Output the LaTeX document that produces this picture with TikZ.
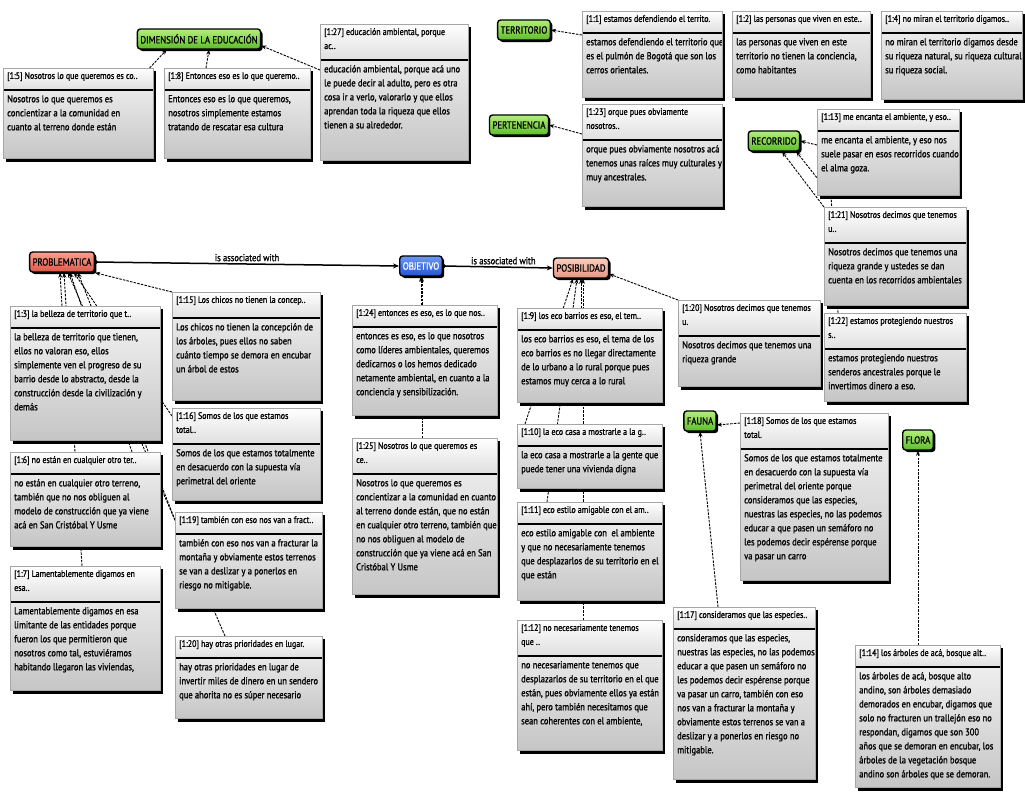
\documentclass[tikz,border=0pt]{standalone}
\usepackage{fontspec}
\setmainfont{PT Sans}[FakeStretch=0.85,FakeBold=1.2]
\usetikzlibrary{arrows.meta,calc,shadows}
\pgfdeclarelayer{bg}
\pgfsetlayers{bg,main}
\definecolor{cgreenA}{RGB}{180,238,125}
\definecolor{cgreenB}{RGB}{92,188,42}
\definecolor{credA}{RGB}{250,160,145}
\definecolor{credB}{RGB}{222,88,72}
\definecolor{cpinkA}{RGB}{250,205,190}
\definecolor{cpinkB}{RGB}{228,150,130}
\definecolor{cblueA}{RGB}{110,150,245}
\definecolor{cblueB}{RGB}{35,85,210}
\tikzset{
  qframe/.style={draw=gray!70, line width=0.6pt, top color=gray!8, bottom color=gray!45, inner sep=0pt},
  qtext/.style={anchor=north west, inner sep=0pt, align=left, font=\fontsize{10}{14}\selectfont},
  qtitle/.style={anchor=north west, inner sep=0pt, align=left, font=\fontsize{9.4}{14}\selectfont},
  concept/.style={draw=black, line width=1.4pt, rounded corners=3pt, inner xsep=3pt, inner ysep=0pt,
    minimum height=20pt, font=\fontsize{10.3}{10}\selectfont,
    drop shadow={shadow xshift=2pt, shadow yshift=-2pt, fill=black, opacity=1}},
  gconcept/.style={concept, top color=cgreenA, bottom color=cgreenB},
  lnk/.style={draw=black, line width=0.9pt, dash pattern=on 2.5pt off 1.2pt, -{Stealth[length=5pt,width=4pt]}},
  assoc/.style={draw=black, line width=1.5pt, {Circle[length=3pt]}-{Stealth[length=6pt,width=5pt]}},
  lbl/.style={font=\fontsize{10}{10}\selectfont, inner sep=2pt},
}
% name, x, y, w, h, title height, title, body
\newcommand\qbox[8]{%
  \fill[black] ({#2+3},{#3+3}) rectangle ({#2+#4+3},{#3+#5+3.5});
  \node[qframe, minimum width=#4pt, minimum height=#5pt, anchor=north west] (#1) at (#2,#3) {};
  \fill[top color=white, bottom color=gray!25] (#2,#3) rectangle ({#2+#4},{#3+#6});
  \draw[line width=1.6pt] (#2,{#3+#6}) -- ({#2+#4},{#3+#6});
  \node[qtitle] at ({#2+4},{#3+4}) {#7};
  \node[qtext] at ({#2+4},{#3+#6+5}) {#8};
  \draw[gray!70, line width=0.6pt] (#1.north west) rectangle (#1.south east);
}
\begin{document}
\begin{tikzpicture}[x=1pt,y=-1pt]
\useasboundingbox (0,0) rectangle (1025,793);

% concept nodes
\node[gconcept] (dim) at (199,39) {DIMENSIÓN DE LA EDUCACIÓN};
\node[gconcept] (terr) at (524,30) {TERRITORIO};
\node[gconcept] (pert) at (519,125) {PERTENENCIA};
\node[gconcept] (rec) at (774,141) {RECORRIDO};
\node[concept, top color=credA, bottom color=credB] (prob) at (62,262) {PROBLEMATICA};
\node[concept, top color=cblueA, bottom color=cblueB, text=white] (obj) at (421,266) {OBJETIVO};
\node[concept, top color=cpinkA, bottom color=cpinkB] (posi) at (581,268) {POSIBILIDAD};
\node[gconcept] (fauna) at (700,421) {FAUNA};
\node[gconcept] (flora) at (918,440) {FLORA};

% quotation boxes
\qbox{b5}{3}{68}{150}{90}{22}{[1:5] Nosotros lo que queremos es co..}{Nosotros lo que queremos es\\concientizar a la comunidad en\\cuanto al terreno donde están}
\qbox{b8}{164}{68}{146}{90}{22}{[1:8] Entonces eso es lo que queremo..}{Entonces eso es lo que queremos,\\nosotros simplemente estamos\\tratando de rescatar esa cultura}
\qbox{b27}{320}{24}{148}{136}{36}{[1:27] educación ambiental, porque\\ac..}{educación ambiental, porque acá uno\\le puede decir al adulto, pero es otra\\cosa ir a verlo, valorarlo y que ellos\\aprendan toda la riqueza que ellos\\tienen a su alrededor.}
\qbox{b1}{582}{11}{140}{86}{22}{[1:1] estamos defendiendo el territo.}{estamos defendiendo el territorio que\\es el pulmón de Bogotá que son los\\cerros orientales.}
\qbox{b2}{732}{11}{138}{86}{22}{[1:2] las personas que viven en este..}{las personas que viven en este\\territorio no tienen la conciencia,\\como habitantes}
\qbox{b4}{881}{11}{141}{88}{22}{[1:4] no miran el territorio digamos..}{no miran el territorio digamos desde\\su riqueza natural, su riqueza cultural,\\su riqueza social.}
\qbox{b23}{582}{104}{140}{102}{36}{[1:23] orque pues obviamente\\nosotros..}{orque pues obviamente nosotros acá\\tenemos unas raíces muy culturales y\\muy ancestrales.}
\qbox{b13}{817}{109}{142}{86}{22}{[1:13] me encanta el ambiente, y eso..}{me encanta el ambiente, y eso nos\\suele pasar en esos recorridos cuando\\el alma goza.}
\qbox{b21}{824}{207}{142}{98}{36}{[1:21] Nosotros decimos que tenemos\\u..}{Nosotros decimos que tenemos una\\riqueza grande y ustedes se dan\\cuenta en los recorridos ambientales}
\qbox{b22}{824}{313}{142}{88}{36}{[1:22] estamos protegiendo nuestros\\s..}{estamos protegiendo nuestros\\senderos ancestrales porque le\\invertimos dinero a eso.}
\qbox{b20r}{678}{300}{142}{86}{36}{[1:20] Nosotros decimos que tenemos\\u.}{Nosotros decimos que tenemos una\\riqueza grande}
\qbox{b3}{10}{306}{150}{134}{22}{[1:3] la belleza de territorio que t..}{la belleza de territorio que tienen,\\ellos no valoran eso, ellos\\simplemente ven el progreso de su\\barrio desde lo abstracto, desde la\\construcción desde la civilización y\\demás}
\qbox{b6}{10}{452}{150}{94}{22}{[1:6] no están en cualquier otro ter..}{no están en cualquier otro terreno,\\también que no nos obliguen al\\modelo de construcción que ya viene\\acá en San Cristóbal Y Usme}
\qbox{b7}{10}{566}{150}{124}{36}{[1:7] Lamentablemente digamos en\\esa..}{Lamentablemente digamos en esa\\limitante de las entidades porque\\fueron los que permitieron que\\nosotros como tal, estuviéramos\\habitando llegaron las viviendas,}
\qbox{b15}{172}{292}{148}{108}{26}{[1:15] Los chicos no tienen la concep..}{Los chicos no tienen la concepción de\\los árboles, pues ellos no saben\\cuánto tiempo se demora en encubar\\un árbol de estos}
\qbox{b16}{172}{408}{148}{92}{36}{[1:16] Somos de los que estamos\\total..}{Somos de los que estamos totalmente\\en desacuerdo con la supuesta vía\\perimetral del oriente}
\qbox{b19}{175}{512}{147}{96}{22}{[1:19] también con eso nos van a fract..}{también con eso nos van a fracturar la\\montaña y obviamente estos terrenos\\se van a deslizar y a ponerlos en\\riesgo no mitigable.}
\qbox{b20l}{175}{636}{147}{82}{22}{[1:20] hay otras prioridades en lugar.}{hay otras prioridades en lugar de\\invertir miles de dinero en un sendero\\que ahorita no es súper necesario}
\qbox{b24}{352}{305}{145}{110}{22}{[1:24] entonces es eso, es lo que nos..}{entonces es eso, es lo que nosotros\\como líderes ambientales, queremos\\dedicarnos o los hemos dedicado\\netamente ambiental, en cuanto a la\\conciencia y sensibilización.}
\qbox{b25}{352}{438}{145}{156}{36}{[1:25] Nosotros lo que queremos es\\ce..}{Nosotros lo que queremos es\\concientizar a la comunidad en cuanto\\al terreno donde están, que no están\\en cualquier otro terreno, también que\\no nos obliguen al modelo de\\construcción que ya viene acá en San\\Cristóbal Y Usme}
\qbox{b9}{517}{308}{145}{94}{22}{[1:9] los eco barrios es eso, el tem..}{los eco barrios es eso, el tema de los\\eco barrios es no llegar directamente\\de lo urbano a lo rural porque pues\\estamos muy cerca a lo rural}
\qbox{b10}{517}{424}{145}{64}{22}{[1:10] la eco casa a mostrarle a la g..}{la eco casa a mostrarle a la gente que\\puede tener una vivienda digna}
\qbox{b11}{517}{502}{145}{98}{22}{[1:11] eco estilo amigable con el am..}{eco estilo amigable con\ \ el ambiente\\y que no necesariamente tenemos\\que desplazarlos de su territorio en el\\que están}
\qbox{b12}{517}{620}{145}{130}{36}{[1:12] no necesariamente tenemos\\que ..}{no necesariamente tenemos que\\desplazarlos de su territorio en el que\\están, pues obviamente ellos ya están\\ahí, pero también necesitamos que\\sean coherentes con el ambiente,}
\qbox{b18}{740}{413}{148}{167}{36}{[1:18] Somos de los que estamos\\total.}{Somos de los que estamos totalmente\\en desacuerdo con la supuesta vía\\perimetral del oriente porque\\consideramos que las especies,\\nuestras las especies, no las podemos\\educar a que pasen un semáforo no\\les podemos decir espérense porque\\va pasar un carro}
\qbox{b17}{673}{607}{142}{172}{22}{[1:17] consideramos que las especies..}{consideramos que las especies,\\nuestras las especies, no las podemos\\educar a que pasen un semáforo no\\les podemos decir espérense porque\\va pasar un carro, también con eso\\nos van a fracturar la montaña y\\obviamente estos terrenos se van a\\deslizar y a ponerlos en riesgo no\\mitigable.}
\qbox{b14}{855}{645}{145}{142}{22}{[1:14] los árboles de acá, bosque alt..}{los árboles de acá, bosque alto\\andino, son árboles demasiado\\demorados en encubar, digamos que\\solo no fracturen un trallejón eso no\\respondan, digamos que son 300\\años que se demoran en encubar, los\\árboles de la vegetación bosque\\andino son árboles que se demoran.}

% connectors (behind the boxes)
\begin{pgfonlayer}{bg}
\fill[white] (0,0) rectangle (1025,793);
\draw[lnk] ($(b5.north east)+(-4,0)$) -- ($(dim.south west)+(30,0)$);
\draw[lnk] ($(b8.north west)+(42,0)$) -- ($(dim.south)+(10,0)$);
\draw[lnk] ($(b27.north west)+(0,46)$) -- ($(dim.south east)+(0,-4)$);
\draw[lnk] ($(b1.north west)+(0,24)$) -- (terr.east);
\draw[lnk] ($(b23.north west)+(0,30)$) -- (pert.east);
\draw[lnk] ($(b13.north west)+(0,36)$) -- (rec.east);
\draw[lnk] (b21.north west) -- ($(rec.south)+(8,0)$);
\draw[lnk] ($(b22.north west)+(14,0)$) -- ($(b13.south west)+(14,0)$) -- ($(rec.south east)+(-4,0)$);
\draw[assoc] (prob.east) -- node[lbl, above, pos=0.5]{is associated with} (obj.west);
\draw[assoc] (obj.east) -- node[lbl, above, pos=0.55]{is associated with} (posi.west);
\draw[lnk] (b20r.north west) -- ($(posi.east)+(0,6)$);
\draw[lnk] (posi.south |- b9.north) -- (posi.south);
\draw[lnk] ($(b10.north west)+(8,0)$) -- ($(posi.south)+(-8,0)$);
\draw[lnk] ($(b11.north west)+(30,0)$) -- ($(posi.south)+(-4,0)$);
\draw[lnk] ($(posi.south |- b12.north)+(2,0)$) -- ($(posi.south)+(2,0)$);
\draw[lnk] (obj.south |- b24.north) -- (obj.south);
\draw[lnk] ($(obj.south |- b25.north)+(1,0)$) -- ($(obj.south)+(1,0)$);
\draw[lnk] ($(b3.north west)+(52,0)$) -- ($(prob.south)+(-2,0)$);
\draw[lnk] ($(b6.north west)+(122,0)$) -- ($(prob.south)+(8,0)$);
\draw[lnk] ($(b7.north west)+(72,0)$) -- ($(prob.south)+(2,0)$);
\draw[lnk] ($(b16.north west)+(0,8)$) -- ($(prob.south)+(12,0)$);
\draw[lnk] ($(b19.north west)+(0,8)$) -- ($(prob.south)+(16,0)$);
\draw[lnk] ($(b20l.north west)+(50,0)$) -- ($(prob.south)+(6,0)$);
\draw[lnk] (b15.north west) -- (prob.south east);
\draw[lnk] ($(b18.north west)+(0,10)$) -- ($(fauna.east)+(0,4)$);
\draw[lnk] ($(b17.north west)+(45,0)$) -- (fauna.south);
\draw[lnk] (flora.south |- b14.north) -- (flora.south);
\end{pgfonlayer}
\end{tikzpicture}
\end{document}
